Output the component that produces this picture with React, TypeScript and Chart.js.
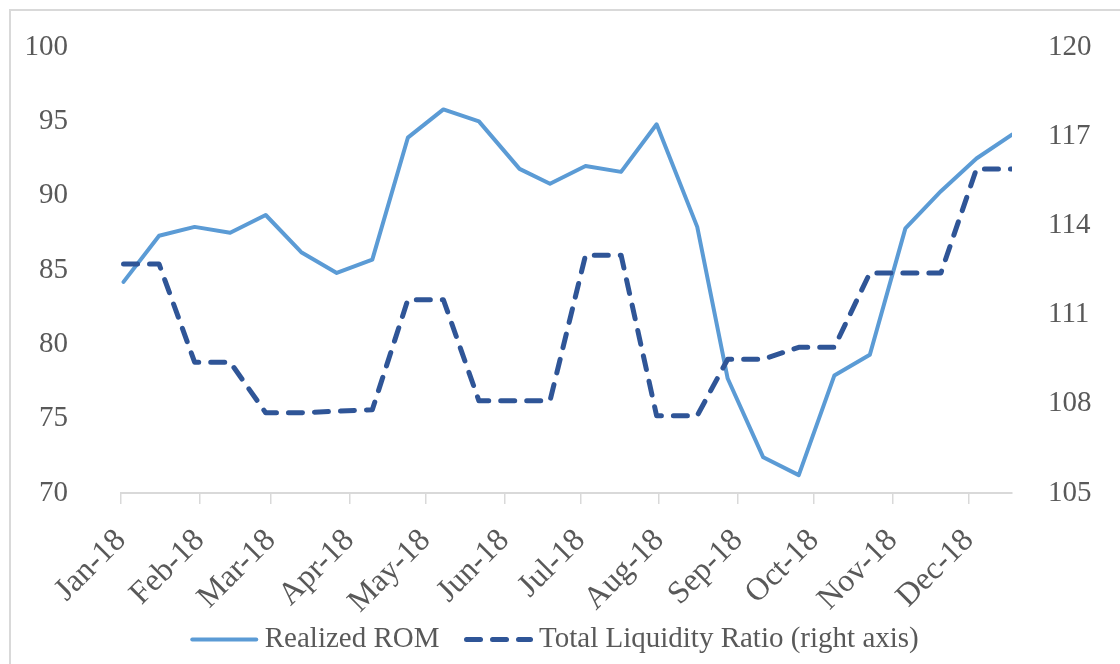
import React, { useEffect, useRef } from 'react';
import { Chart, registerables } from 'chart.js';

Chart.register(...registerables);

// Observation dates (bi-weekly)
const obsDates = [
  '2018-01-02', '2018-01-16', '2018-01-30', '2018-02-13', '2018-02-27', '2018-03-13',
  '2018-03-27', '2018-04-10', '2018-04-24', '2018-05-08', '2018-05-22', '2018-06-07',
  '2018-06-19', '2018-07-03', '2018-07-17', '2018-07-31', '2018-08-16', '2018-08-28',
  '2018-09-11', '2018-09-25', '2018-10-09', '2018-10-23', '2018-11-06', '2018-11-20',
  '2018-12-04', '2018-12-18',
];

const realizedROM = [
  84.2, 87.3, 87.9, 87.5, 88.7, 86.2, 84.8, 85.7, 93.9, 95.8, 95.0, 91.8, 90.8,
  92.0, 91.6, 94.8, 87.9, 77.7, 72.4, 71.2, 77.9, 79.3, 87.8, 90.3, 92.5, 94.1,
];

const totalLiquidityRatio = [
  112.7, 112.7, 109.4, 109.4, 107.7, 107.7, 107.75, 107.8, 111.5, 111.5, 108.1, 108.1, 108.1,
  113.0, 113.0, 107.6, 107.6, 109.5, 109.5, 109.9, 109.9, 112.4, 112.4, 112.4, 115.9, 115.9,
];

const axisStartDate = '2018-01-01';
const monthTickDates = [
  '2018-01-01', '2018-02-01', '2018-03-01', '2018-04-01', '2018-05-01', '2018-06-01',
  '2018-07-01', '2018-08-01', '2018-09-01', '2018-10-01', '2018-11-01', '2018-12-01',
];
const monthTickLabels = [
  'Jan-18', 'Feb-18', 'Mar-18', 'Apr-18', 'May-18', 'Jun-18',
  'Jul-18', 'Aug-18', 'Sep-18', 'Oct-18', 'Nov-18', 'Dec-18',
];

const seriesNames = ['Realized ROM', 'Total Liquidity Ratio (right axis)'];

const DAY = 86400000;
const dayOf = (s: string) => {
  const [y, m, d] = s.split('-').map(Number);
  const [y0, m0, d0] = axisStartDate.split('-').map(Number);
  return Math.round((Date.UTC(y, m - 1, d) - Date.UTC(y0, m0 - 1, d0)) / DAY);
};

const FONT = "'Liberation Serif', 'Times New Roman', serif";
const TEXT = '#595959';
const FS = 29;
const SAMPLE_W = 75;
const SAMPLE_LEAD = 15;

// Draw legend line samples (with dash pattern) at the legend's own hit boxes
const legendLinePlugin = {
  id: 'legendLines',
  afterDraw(chart: any) {
    const legend = chart.legend;
    if (!legend || !legend.legendHitBoxes) return;
    const ctx = chart.ctx;
    legend.legendItems.forEach((item: any, i: number) => {
      const box = legend.legendHitBoxes[i];
      const ds = chart.data.datasets[item.datasetIndex];
      const cy = box.top + box.height / 2;
      ctx.save();
      ctx.strokeStyle = ds.borderColor;
      ctx.lineWidth = ds.borderWidth;
      ctx.lineCap = 'round';
      ctx.setLineDash(ds.borderDash || []);
      ctx.beginPath();
      ctx.moveTo(box.left + SAMPLE_LEAD + 2, cy);
      ctx.lineTo(box.left + SAMPLE_W + 6, cy);
      ctx.stroke();
      ctx.restore();
    });
  },
};

export default function App() {
  const ref = useRef<HTMLCanvasElement | null>(null);

  useEffect(() => {
    document.body.style.margin = '0';
    const canvas = ref.current;
    if (!canvas) return;
    const tickDays = monthTickDates.map(dayOf);
    const chart = new Chart(canvas, {
      type: 'line',
      plugins: [legendLinePlugin],
      data: {
        datasets: [
          {
            label: seriesNames[0],
            data: obsDates.map((d, i) => ({ x: dayOf(d), y: realizedROM[i] })),
            borderColor: '#5B9BD5',
            backgroundColor: '#5B9BD5',
            borderWidth: 4,
            borderCapStyle: 'round',
            borderJoinStyle: 'round',
            pointRadius: 0,
            tension: 0,
            yAxisID: 'y',
            order: 1,
          },
          {
            label: seriesNames[1],
            data: obsDates.map((d, i) => ({ x: dayOf(d), y: totalLiquidityRatio[i] })),
            borderColor: '#2F5597',
            backgroundColor: '#2F5597',
            borderWidth: 5,
            borderDash: [14, 12],
            borderCapStyle: 'round',
            borderJoinStyle: 'round',
            pointRadius: 0,
            tension: 0,
            yAxisID: 'y1',
            order: 0,
          },
        ],
      },
      options: {
        responsive: false,
        animation: false,
        devicePixelRatio: 1,
        layout: { padding: { top: 47, bottom: 0, left: 0, right: 26 } },
        plugins: {
          tooltip: { enabled: false },
          legend: {
            position: 'bottom',
            labels: {
              usePointStyle: true,
              pointStyle: 'line',
              pointStyleWidth: SAMPLE_W,
              padding: 10,
              color: TEXT,
              font: { family: FONT, size: FS },
              sort: (a: any, b: any) => a.datasetIndex - b.datasetIndex,
              generateLabels: (c: any) =>
                Chart.defaults.plugins.legend.labels.generateLabels(c).map((it: any) => ({
                  ...it,
                  strokeStyle: 'rgba(0,0,0,0)',
                  fillStyle: 'rgba(0,0,0,0)',
                  lineWidth: 0,
                })),
            },
          },
        },
        scales: {
          x: {
            type: 'linear',
            min: 0,
            max: dayOf(obsDates[obsDates.length - 1]),
            afterBuildTicks: (scale: any) => {
              scale.ticks = tickDays.map((v) => ({ value: v }));
            },
            afterFit: (scale: any) => {
              scale.height = 122;
            },
            grid: {
              display: true,
              drawOnChartArea: false,
              drawTicks: true,
              tickLength: 11,
              color: '#d9d9d9',
              lineWidth: 1.5,
            },
            border: { display: true, color: '#d9d9d9', width: 2 },
            ticks: {
              autoSkip: false,
              minRotation: 45,
              maxRotation: 45,
              padding: 18,
              color: TEXT,
              font: { family: FONT, size: 32 },
              callback: (_v: any, i: number) => monthTickLabels[i],
            },
          },
          y: {
            position: 'left',
            min: 70,
            max: 100,
            afterFit: (scale: any) => {
              scale.width = 121;
            },
            grid: {
              display: true,
              drawOnChartArea: false,
              drawTicks: true,
              tickLength: 50,
              color: 'rgba(0,0,0,0)',
            },
            border: { display: false },
            ticks: {
              stepSize: 5,
              padding: 3,
              color: TEXT,
              font: { family: FONT, size: FS },
            },
          },
          y1: {
            position: 'right',
            min: 105,
            max: 120,
            afterFit: (scale: any) => {
              scale.width = 82;
            },
            grid: {
              display: true,
              drawOnChartArea: false,
              drawTicks: true,
              tickLength: 33,
              color: 'rgba(0,0,0,0)',
            },
            border: { display: false },
            ticks: {
              stepSize: 3,
              padding: 3,
              color: TEXT,
              font: { family: FONT, size: FS },
            },
          },
        },
      },
    });
    return () => chart.destroy();
  }, []);

  return (
    <div style={{ position: 'relative', width: 1120, height: 664, overflow: 'hidden', background: '#fff' }}>
      <canvas ref={ref} width={1120} height={664} style={{ display: 'block' }} />
      <div
        style={{
          position: 'absolute',
          left: 9,
          top: 9,
          width: 3000,
          height: 3000,
          border: '2px solid #d9d9d9',
          pointerEvents: 'none',
        }}
      />
    </div>
  );
}
